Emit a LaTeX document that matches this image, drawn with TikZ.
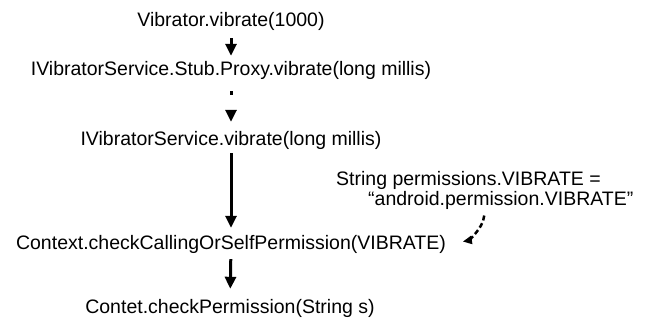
\documentclass[tikz,border=0pt]{standalone}
\usepackage{fontspec}
\setmainfont{Liberation Sans}
\usetikzlibrary{arrows.meta}
\tikzset{call node/.style={inner sep=0pt,text height=14pt,text depth=5pt,font=\fontsize{19.5}{20}\selectfont},
call edge/.style={line width=3pt,-{Triangle[length=12pt,width=11pt]}},
}

\begin{document}
\begin{tikzpicture}[x=1pt,y=-1pt]
	\useasboundingbox (0,0) rectangle (649,321);
	\node[call node,anchor=base] (vib) at (231,27) {Vibrator.vibrate(1000)};
	\node[call node,anchor=base] (proxy) at (231,76) {IVibratorService.Stub.Proxy.vibrate(long millis)};
	\node[call node,anchor=base] (ivs) at (231,146) {IVibratorService.vibrate(long millis)};
	\node[call node,anchor=base] (ctx) at (231,249) {Context.checkCallingOrSelfPermission(VIBRATE)};
	\node[call node,anchor=base] (chk) at (230,313) {Contet.checkPermission(String s)};
	\node[inner sep=0pt,align=left,anchor=north west,font=\fontsize{19.5}{20}\selectfont] (perm) at (336,171)
		{String permissions.VIBRATE =\\\hspace*{32pt}“android.permission.VIBRATE”};
	
	\draw[call edge,shorten <=6pt,shorten >=6pt] (vib) -- (proxy);
	\draw[call edge,dash pattern=on 4pt off 16pt,shorten <=10pt,shorten >=10pt] (proxy) -- (ivs);
	\draw[call edge,shorten <=2pt,shorten >=7pt] (ivs) -- (ctx);
	\draw[call edge,shorten <=5pt,shorten >=10pt] (ctx) -- (chk);
	\draw[line width=2.5pt,dash pattern=on 5pt off 3pt,-{Triangle[length=9pt,width=8pt]},shorten <=6pt,shorten >=17pt]
		(perm.south) to[out=-95,in=10] (ctx.east);
\end{tikzpicture}
\end{document}
